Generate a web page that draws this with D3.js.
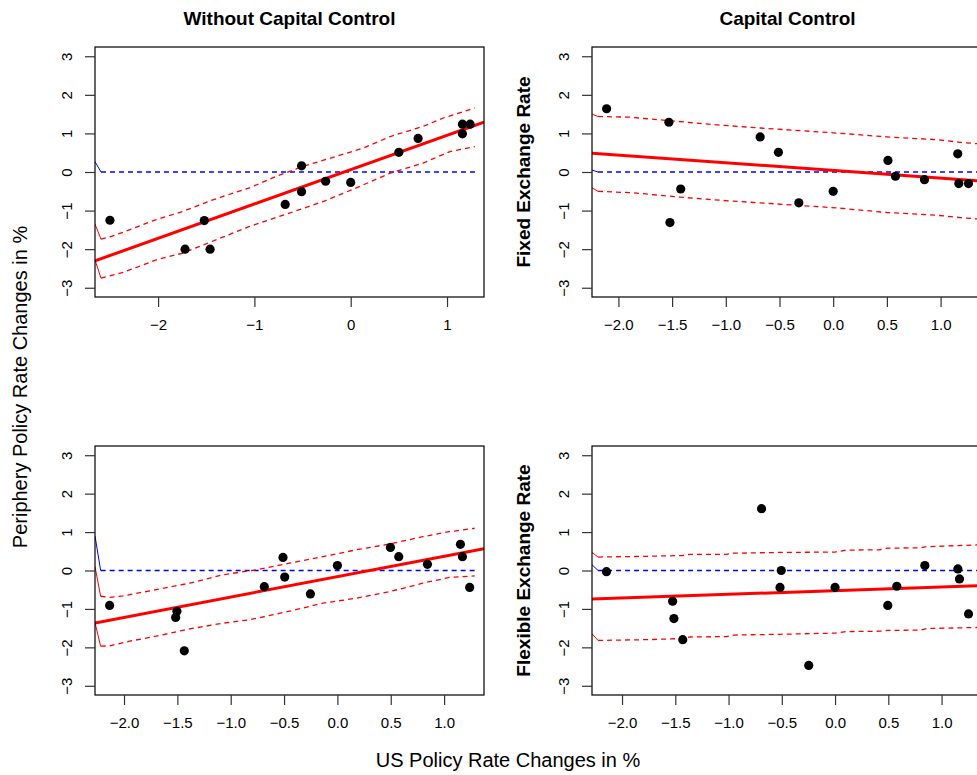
<!DOCTYPE html>
<html>
<head>
<meta charset="utf-8">
<script src="https://cdn.jsdelivr.net/npm/d3@7/dist/d3.min.js"></script>
<style>
  html, body { margin: 0; padding: 0; background: #fff; }
  svg { display: block; font-family: "Liberation Sans", Arial, sans-serif; }
</style>
</head>
<body>
<svg id="chart" width="977" height="775"></svg>
<script>
// ---------------- data ----------------
const yTicks = [-3, -2, -1, 0, 1, 2, 3];
const xTicksTopLeft = [-2, -1, 0, 1];
const xTicksHalf = [-2.0, -1.5, -1.0, -0.5, 0.0, 0.5, 1.0];

const columnTitles = ["Without Capital Control", "Capital Control"];
const rowTitles = ["Fixed Exchange Rate", "Flexible Exchange Rate"];
const yAxisTitle = "Periphery Policy Rate Changes in %";
const xAxisTitle = "US Policy Rate Changes in %";

// x-axis limits of each panel
const xLimits = [[-2.655, 1.384], [-2.246, 1.395], [-2.272, 1.374], [-2.282, 1.389]];
const yLimits = [-3.24, 3.24];

// scatter points [x, y]
const pointsNoControl = [
  [-2.50, -1.25], [-1.72, -2.00], [-1.52, -1.26], [-1.46, -2.00], [-0.68, -0.84],
  [-0.51, 0.16], [-0.51, -0.51], [-0.26, -0.24], [0.00, -0.27], [0.50, 0.51],
  [0.70, 0.87], [1.16, 1.24], [1.24, 1.24], [1.16, 0.99]
];
const pointsFixed = [
  [-2.11, 1.64], [-1.53, 1.29], [-1.52, -1.31], [-1.42, -0.44], [-0.68, 0.91],
  [-0.51, 0.51], [-0.32, -0.80], [0.00, -0.50], [0.51, 0.30], [0.58, -0.11],
  [0.85, -0.20], [1.16, 0.47], [1.17, -0.30], [1.26, -0.30]
];
const pointsNoControl2 = [
  [-2.135, -0.91], [-1.516, -1.22], [-1.504, -1.06], [-1.435, -2.09], [-0.685, -0.42],
  [-0.51, 0.34], [-0.494, -0.17], [-0.253, -0.61], [0.00, 0.13], [0.497, 0.60],
  [0.575, 0.36], [0.844, 0.16], [1.153, 0.68], [1.172, 0.36], [1.24, -0.44]
];
const pointsFlexible = [
  [-2.146, -0.03], [-1.525, -0.80], [-1.513, -1.25], [-1.43, -1.80], [-0.69, 1.61],
  [-0.517, -0.44], [-0.505, 0.00], [-0.247, -2.47], [0.00, -0.44], [0.495, -0.91],
  [0.58, -0.41], [0.843, 0.13], [1.153, 0.04], [1.168, -0.22], [1.253, -1.13]
];

// regression fits [intercept, slope]
const fits = [[0.06, 0.89], [0.04, -0.20], [-0.16, 0.53], [-0.525, 0.094]];

// confidence bands [x, y]
const upper1 = [[-2.655,-1.35],[-2.593,-1.74],[-2.50,-1.68],[-2.36,-1.56],[-2.05,-1.26],[-1.74,-1.02],[-1.43,-0.72],[-1.05,-0.41],[-0.77,-0.11],[-0.49,0.15],[-0.21,0.36],[0.13,0.62],[0.41,0.92],[0.75,1.18],[0.96,1.40],[1.29,1.66]];
const lower1 = [[-2.655,-2.28],[-2.593,-2.75],[-2.50,-2.69],[-2.36,-2.60],[-2.01,-2.27],[-1.74,-2.10],[-1.39,-1.75],[-1.05,-1.41],[-0.63,-1.06],[-0.28,-0.76],[0.06,-0.41],[0.41,-0.03],[0.75,0.23],[1.03,0.53],[1.29,0.66]];
const zero1 = [[-2.655,0.27],[-2.593,0],[1.29,0]];

const upper2 = [[-2.246,1.50],[-2.19,1.44],[-1.89,1.42],[-1.52,1.33],[-1.12,1.23],[-0.68,1.14],[-0.19,1.05],[0.03,1.01],[0.50,0.91],[0.96,0.84],[1.18,0.77],[1.395,0.72]];
const lower2 = [[-2.246,-0.41],[-2.19,-0.50],[-1.86,-0.54],[-1.43,-0.65],[-1.12,-0.72],[-0.68,-0.80],[-0.19,-0.89],[0.03,-0.93],[0.50,-1.05],[0.96,-1.12],[1.18,-1.18],[1.395,-1.23]];
const zero2 = [[-2.246,0.05],[-2.19,0],[1.395,0]];

const upper3 = [[-2.272,0.10],[-2.219,-0.67],[-2.135,-0.70],[-2.01,-0.66],[-1.70,-0.50],[-1.385,-0.33],[-1.07,-0.11],[-0.76,0.02],[-0.45,0.19],[-0.135,0.36],[0.18,0.54],[0.49,0.69],[0.80,0.88],[1.05,1.01],[1.287,1.10]];
const lower3 = [[-2.272,-1.36],[-2.219,-1.97],[-2.135,-1.96],[-1.947,-1.84],[-1.70,-1.71],[-1.385,-1.52],[-1.07,-1.37],[-0.82,-1.28],[-0.45,-1.06],[-0.135,-0.85],[0.18,-0.72],[0.49,-0.55],[0.80,-0.33],[1.05,-0.18],[1.287,-0.14]];
const zero3 = [[-2.272,0.9],[-2.219,0],[1.287,0]];

const upper4 = [[-2.282,0.47],[-2.225,0.35],[-1.77,0.37],[-1.43,0.39],[-1.36,0.42],[-1.02,0.42],[-0.95,0.45],[-0.52,0.47],[0.0,0.48],[0.1,0.53],[0.42,0.54],[0.49,0.58],[0.8,0.59],[0.86,0.62],[1.389,0.67]];
const lower4 = [[-2.282,-1.65],[-2.225,-1.82],[-1.77,-1.80],[-1.43,-1.77],[-1.36,-1.73],[-1.02,-1.72],[-0.95,-1.68],[-0.52,-1.66],[0.0,-1.63],[0.1,-1.59],[0.42,-1.58],[0.49,-1.56],[0.8,-1.55],[0.86,-1.51],[1.389,-1.48]];
const zero4 = [[-2.282,0.15],[-2.225,0],[1.389,0]];

// ---------------- layout ----------------
const boxes = [
  {left: 95, right: 484, top: 47, bottom: 297},
  {left: 592, right: 983, top: 47, bottom: 297},
  {left: 95, right: 484, top: 446, bottom: 695},
  {left: 592, right: 983, top: 446, bottom: 695}
];
const panels = [
  {points: pointsNoControl, upper: upper1, lower: lower1, zero: zero1, xt: xTicksTopLeft, fmt: d3.format("d")},
  {points: pointsFixed, upper: upper2, lower: lower2, zero: zero2, xt: xTicksHalf, fmt: d3.format(".1f")},
  {points: pointsNoControl2, upper: upper3, lower: lower3, zero: zero3, xt: xTicksHalf, fmt: d3.format(".1f")},
  {points: pointsFlexible, upper: upper4, lower: lower4, zero: zero4, xt: xTicksHalf, fmt: d3.format(".1f")}
];

const svg = d3.select("#chart");
const tickFont = 15;

panels.forEach((p, i) => {
  const b = boxes[i];
  const x = d3.scaleLinear().domain(xLimits[i]).range([b.left, b.right]);
  const y = d3.scaleLinear().domain(yLimits).range([b.bottom, b.top]);
  const g = svg.append("g");

  const clipId = "clip" + i;
  svg.append("clipPath").attr("id", clipId)
    .append("rect").attr("x", b.left).attr("y", b.top)
    .attr("width", b.right - b.left).attr("height", b.bottom - b.top);

  const plot = g.append("g").attr("clip-path", `url(#${clipId})`);
  const line = d3.line().x(d => x(d[0])).y(d => y(d[1]));

  // zero reference line
  plot.append("path").datum(p.zero.slice(0, 2)).attr("d", line)
    .attr("fill", "none").attr("stroke", "#0000FF").attr("stroke-width", 1);
  plot.append("path").datum(p.zero.slice(1)).attr("d", line)
    .attr("fill", "none").attr("stroke", "#0000FF").attr("stroke-width", 1.3)
    .attr("stroke-dasharray", "5,4");

  // confidence bands
  [p.upper, p.lower].forEach(band => {
    plot.append("path").datum(band.slice(0, 2)).attr("d", line)
      .attr("fill", "none").attr("stroke", "#FF0000").attr("stroke-width", 1);
    plot.append("path").datum(band.slice(1)).attr("d", line)
      .attr("fill", "none").attr("stroke", "#FF0000").attr("stroke-width", 1.3)
      .attr("stroke-dasharray", "5,4");
  });

  // fitted line
  const [a, s] = fits[i];
  const fitPts = xLimits[i].map(v => [v, a + s * v]);
  plot.append("path").datum(fitPts).attr("d", line)
    .attr("fill", "none").attr("stroke", "#FF0000").attr("stroke-width", 3);

  // points
  plot.selectAll("circle").data(p.points).join("circle")
    .attr("cx", d => x(d[0])).attr("cy", d => y(d[1])).attr("r", 4.6)
    .attr("fill", "#000");

  // box
  g.append("rect").attr("x", b.left).attr("y", b.top)
    .attr("width", b.right - b.left).attr("height", b.bottom - b.top)
    .attr("fill", "none").attr("stroke", "#000").attr("stroke-width", 1.2);

  // axes
  const yAxis = d3.axisLeft(y).tickValues(yTicks).tickSize(10).tickPadding(4).tickFormat(d3.format("d"));
  const ya = g.append("g").attr("transform", `translate(${b.left},0)`).call(yAxis);
  ya.select(".domain").remove();
  ya.selectAll(".tick line").attr("stroke", "#333").attr("stroke-width", 1.2);
  ya.selectAll(".tick text")
    .attr("font-size", tickFont).attr("font-family", "Liberation Sans, Arial, sans-serif")
    .attr("fill", "#000")
    .attr("text-anchor", "middle")
    .attr("x", null)
    .attr("transform", "translate(-28,0) rotate(-90)")
    .attr("dy", "0.35em");

  const xAxis = d3.axisBottom(x).tickValues(p.xt).tickSize(10).tickFormat(p.fmt);
  const xa = g.append("g").attr("transform", `translate(0,${b.bottom})`).call(xAxis);
  xa.select(".domain").remove();
  xa.selectAll(".tick line").attr("stroke", "#333").attr("stroke-width", 1.2);
  xa.selectAll(".tick text")
    .attr("font-size", tickFont).attr("font-family", "Liberation Sans, Arial, sans-serif")
    .attr("fill", "#000").attr("y", 28).attr("dy", "0.35em");
});

// column titles
svg.append("text").attr("x", (boxes[0].left + boxes[0].right) / 2).attr("y", 18)
  .attr("text-anchor", "middle").attr("dy", "0.35em")
  .attr("font-size", 19).attr("font-weight", "bold").text(columnTitles[0]);
svg.append("text").attr("x", (boxes[1].left + boxes[1].right) / 2).attr("y", 18)
  .attr("text-anchor", "middle").attr("dy", "0.35em")
  .attr("font-size", 19).attr("font-weight", "bold").text(columnTitles[1]);

// row titles
[0, 1].forEach(r => {
  const b = boxes[1 + 2 * r];
  const cy = (b.top + b.bottom) / 2;
  svg.append("text").attr("transform", `translate(523,${cy}) rotate(-90)`)
    .attr("text-anchor", "middle").attr("dy", "0.35em")
    .attr("font-size", 19).attr("font-weight", "bold").text(rowTitles[r]);
});

// overall axis titles
svg.append("text").attr("transform", "translate(20,387) rotate(-90)")
  .attr("text-anchor", "middle").attr("dy", "0.35em")
  .attr("font-size", 20).text(yAxisTitle);
svg.append("text").attr("x", 508).attr("y", 760)
  .attr("text-anchor", "middle").attr("dy", "0.35em")
  .attr("font-size", 20).text(xAxisTitle);
</script>
</body>
</html>
